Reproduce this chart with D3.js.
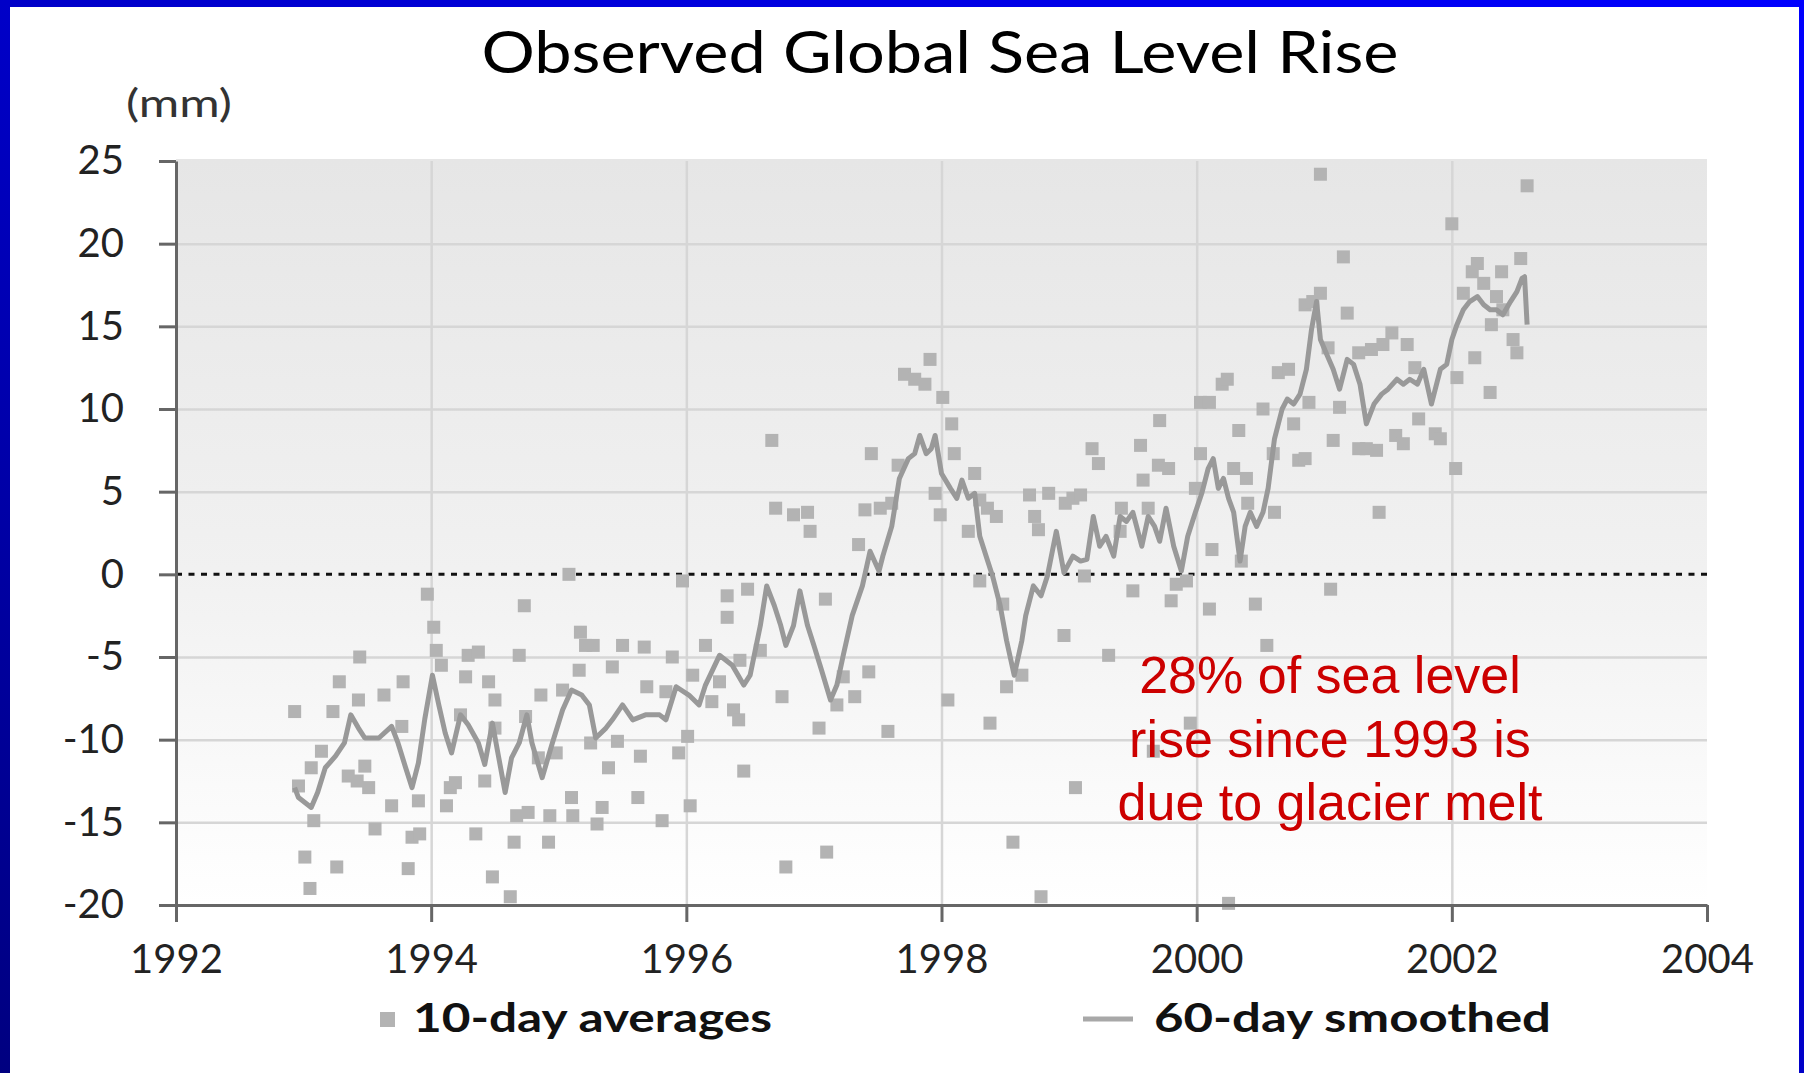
<!DOCTYPE html>
<html>
<head>
<meta charset="utf-8">
<script src="https://cdn.jsdelivr.net/npm/d3@7"></script>
<style>
  html, body { margin: 0; padding: 0; background: #fff; }
  svg { display: block; }
  .tick text { font-family: Lato, "Open Sans", sans-serif; font-size: 40px; fill: #222; }
  .axis path, .axis line { stroke: #666; stroke-width: 3; }
  .grid line { stroke: #d6d6d6; stroke-width: 2.5; }
  .grid path { display: none; }
</style>
</head>
<body>
<script>
// Tick values
const xTicks = [1992, 1994, 1996, 1998, 2000, 2002, 2004];
const yTicks = [-20, -15, -10, -5, 0, 5, 10, 15, 20, 25];

// 10-day averages (decimal year, mm)
const avgYears = [
  1992.93, 1993.05, 1993.01, 1993.08, 1993.26, 1992.96, 1993.06, 1993.14, 1993.23, 1993.28,
  1993.35, 1993.42, 1993.44, 1993.43, 1993.48, 1993.51, 1993.56, 1993.63, 1993.69, 1993.78,
  1993.77, 1993.82, 1993.85, 1993.91, 1993.90, 1993.97, 1994.02, 1994.04, 1994.08, 1994.12,
  1994.15, 1994.19, 1994.23, 1994.27, 1994.29, 1994.37, 1994.35, 1994.42, 1994.45, 1994.50,
  1994.50, 1994.48, 1994.62, 1994.65, 1994.67, 1994.69, 1994.73, 1994.76, 1994.74, 1994.86,
  1994.84, 1994.92, 1994.93, 1994.98, 1995.03, 1995.08, 1995.10, 1995.11, 1995.16, 1995.17,
  1995.21, 1995.27, 1995.25, 1995.30, 1995.34, 1995.39, 1995.42, 1995.50, 1995.46, 1995.62,
  1995.64, 1995.67, 1995.69, 1995.81, 1995.89, 1995.84, 1995.94, 1995.97, 1996.01, 1996.03,
  1996.05, 1996.15, 1996.20, 1996.26, 1996.32, 1996.32, 1996.37, 1996.41, 1996.45, 1996.48,
  1996.42, 1996.58, 1996.67, 1996.70, 1996.75, 1996.78, 1996.84, 1996.95, 1996.97, 1997.04,
  1997.09, 1997.10, 1997.18, 1997.23, 1997.32, 1997.35, 1997.40, 1997.43, 1997.45, 1997.52,
  1997.58, 1997.61, 1997.66, 1997.71, 1997.79, 1997.87, 1997.91, 1998.01, 1997.99, 1998.05,
  1998.08, 1998.10, 1997.95, 1998.26, 1998.30, 1998.36, 1998.43, 1998.21, 1998.30, 1998.38,
  1998.51, 1998.48, 1998.56, 1998.63, 1998.69, 1998.73, 1998.76, 1998.78, 1998.84,
  1998.97, 1999.03, 1999.05, 1998.96, 1999.09, 1999.18, 1999.23, 1999.12, 1999.31, 1999.41,
  1999.40, 1999.50, 1999.56, 1999.58, 1999.62, 1999.66, 1999.70, 1999.71, 1999.78, 1999.80,
  1999.84, 1999.92, 1999.95, 1999.99, 2000.03, 2000.03, 2000.10, 2000.12, 2000.10, 2000.20,
  2000.24, 2000.25, 2000.29, 2000.33, 2000.35, 2000.39, 2000.40, 2000.46, 2000.52, 2000.55,
  2000.61, 2000.60, 2000.64, 2000.72, 2000.76, 2000.80, 2000.85, 2000.88, 2000.85, 2000.91,
  2000.97, 2000.97, 2001.05, 2001.15, 2001.18, 2001.07, 2001.03, 2001.12, 2001.27, 2001.33,
  2001.41, 2001.43, 2001.27, 2001.37, 2001.46, 2001.53, 2001.56, 2001.62, 2001.65, 2001.71,
  2001.74, 2001.87, 2001.91, 2002.00, 2002.03, 2002.04, 2002.09, 2002.16, 2002.20, 2002.18,
  2002.25, 2002.30, 2002.31, 2002.39, 2002.40, 2002.48, 2002.51, 2002.54, 2002.59, 2002.35
];
const avgValues = [
  -8.3, -19.0, -17.1, -14.9, -17.7, -12.8, -11.7, -10.7, -8.3, -6.5,
  -12.2, -12.5, -5.0, -7.6, -11.6, -12.9, -15.4, -7.3, -14.0, -6.5,
  -9.2, -17.8, -15.9, -15.7, -13.7, -1.2, -3.2, -4.6, -5.5, -14.0,
  -12.9, -12.6, -8.5, -6.2, -4.9, -4.7, -15.7, -12.5, -6.5, -7.6,
  -9.3, -18.3, -19.5, -16.2, -14.6, -4.9, -1.9, -14.4, -8.6, -7.3,
  -11.1, -16.2, -14.6, -10.8, -7.0, 0.0, -13.5, -14.6, -5.8, -3.5,
  -4.3, -4.3, -10.2, -15.1, -14.1, -11.7, -5.6, -4.3, -10.1, -13.5,
  -11.0, -4.4, -6.8, -14.9, -5.0, -7.1, -10.8, -0.4, -9.8, -14.0,
  -6.1, -4.3, -7.7, -6.5, -1.3, -2.6, -8.2, -8.8, -11.9, -0.9,
  -5.2, -4.6, 8.1, 4.0, -7.4, -17.7, 3.6, 3.75, 2.6, -9.3,
  -1.5, -16.8, -7.9, -6.2, -7.4, 1.8, 3.9, -5.9, 7.3, 4.0,
  -9.5, 4.3, 6.6, 12.1, 11.8, 11.5, 13.0, 10.7, 3.6, -7.6,
  9.1, 7.3, 4.9, 6.1, 4.5, 4.0, 3.5, 2.6, -0.4, -9.0,
  -6.8, -1.8, -16.2, -6.1, 4.8, 3.5, 2.7, -19.5, 4.9,
  4.3, 4.6, -12.9, -3.7, 4.8, 7.6, 6.7, -0.1, -4.9, 4.0,
  2.6, -1.0, 7.8, 5.7, 4.0, -10.7, 6.6, 9.3, 6.4, -1.6,
  -0.6, -0.4, -9.0, 5.2, 7.3, 10.4, 10.4, 1.5, -2.1, 11.5,
  11.8, -19.9, 6.4, 8.7, 0.8, 5.8, 4.3, -1.8, 10.0, -4.3,
  3.75, 7.3, 12.2, 12.4, 9.1, 6.9, 7.0, 10.4, 16.3, 16.5,
  24.2, 17.0, -0.9, 19.2, 15.8, 8.1, 13.7, 10.1, 7.6, 7.6,
  7.5, 3.75, 13.4, 13.6, 13.9, 14.6, 8.4, 7.9, 13.9, 12.5,
  9.4, 8.5, 8.2, 21.2, 6.4, 11.9, 17.0, 18.3, 18.8, 13.1,
  17.6, 11.0, 15.1, 18.3, 16.0, 14.2, 13.4, 19.1, 23.5, 16.8
];

// 60-day smoothed (decimal year, mm)
const smoothYears = [
  1992.93, 1992.96, 1993.06, 1993.11, 1993.17, 1993.25, 1993.32, 1993.37, 1993.43, 1993.48,
  1993.59, 1993.69, 1993.74, 1993.80, 1993.85, 1993.90, 1993.95, 1994.01, 1994.06, 1994.11,
  1994.16, 1994.23, 1994.29, 1994.37, 1994.42, 1994.48, 1994.53, 1994.58, 1994.63, 1994.69,
  1994.75, 1994.79, 1994.87, 1994.95, 1995.03, 1995.10, 1995.18, 1995.24, 1995.29, 1995.37,
  1995.42, 1995.50, 1995.58, 1995.68, 1995.79, 1995.84, 1995.92, 1996.02, 1996.10, 1996.15,
  1996.26, 1996.36, 1996.45, 1996.50, 1996.58, 1996.63, 1996.69, 1996.74, 1996.78, 1996.84,
  1996.89, 1996.95, 1997.00, 1997.06, 1997.13, 1997.18, 1997.23, 1997.30, 1997.38, 1997.44,
  1997.51, 1997.54, 1997.61, 1997.67, 1997.74, 1997.79, 1997.83, 1997.88, 1997.92, 1997.95,
  1998.00, 1998.07, 1998.12, 1998.16, 1998.21, 1998.26, 1998.30, 1998.35, 1998.40, 1998.46,
  1998.51, 1998.57, 1998.63, 1998.66, 1998.72, 1998.78, 1998.83, 1998.90, 1998.96, 1999.03,
  1999.09, 1999.14, 1999.19, 1999.24, 1999.29, 1999.35, 1999.40, 1999.45, 1999.50, 1999.57,
  1999.62, 1999.67, 1999.71, 1999.76, 1999.82, 1999.88, 1999.93, 1999.99, 2000.04, 2000.09,
  2000.13, 2000.17, 2000.21, 2000.25, 2000.29, 2000.34, 2000.38, 2000.42, 2000.47, 2000.52,
  2000.56, 2000.61, 2000.67, 2000.71, 2000.76, 2000.81, 2000.86, 2000.90, 2000.94, 2000.97,
  2001.02, 2001.07, 2001.12, 2001.18, 2001.23, 2001.28, 2001.33, 2001.39, 2001.45, 2001.50,
  2001.57, 2001.62, 2001.67, 2001.73, 2001.78, 2001.84, 2001.91, 2001.96, 2002.00, 2002.04,
  2002.09, 2002.14, 2002.20, 2002.25, 2002.30, 2002.35, 2002.40, 2002.46, 2002.51, 2002.55,
  2002.57, 2002.59
];
const smoothValues = [
  -12.9, -13.5, -14.1, -13.2, -11.7, -11.0, -10.2, -8.5, -9.3, -9.9,
  -9.9, -9.2, -10.2, -11.7, -12.9, -11.4, -8.75, -6.1, -7.9, -9.6,
  -10.8, -8.5, -9.1, -10.2, -11.5, -9.0, -11.1, -13.2, -11.1, -10.2,
  -8.5, -10.2, -12.3, -10.2, -8.2, -7.0, -7.3, -7.9, -9.9, -9.3,
  -8.8, -7.9, -8.8, -8.5, -8.5, -8.8, -6.8, -7.3, -7.9, -6.7,
  -4.9, -5.5, -6.7, -6.1, -3.1, -0.7, -1.9, -3.1, -4.3, -3.1,
  -1.0, -3.1, -4.3, -5.8, -7.6, -6.7, -4.9, -2.5, -0.7, 1.4,
  0.2, 1.1, 2.9, 5.8, 7.0, 7.3, 8.4, 7.3, 7.6, 8.4,
  6.1, 5.2, 4.6, 5.7, 4.6, 4.9, 2.3, 1.1, -0.1, -1.9,
  -4.0, -6.1, -4.0, -2.5, -0.7, -1.3, -0.1, 2.6, 0.1, 1.1,
  0.8, 0.9, 3.5, 1.7, 2.3, 1.1, 3.5, 3.2, 3.75, 1.7,
  3.5, 2.9, 2.0, 4.0, 1.7, 0.2, 2.3, 3.75, 4.9, 6.4,
  7.0, 5.2, 5.8, 4.6, 3.75, 0.8, 2.9, 3.75, 2.9, 3.75,
  5.2, 8.2, 10.0, 10.6, 10.3, 10.9, 12.4, 14.8, 16.5, 14.2,
  13.3, 12.4, 11.2, 13.0, 12.7, 11.5, 9.1, 10.3, 10.9, 11.2,
  11.8, 11.5, 11.8, 11.5, 12.4, 10.3, 12.4, 12.7, 14.2, 15.1,
  16.0, 16.5, 16.8, 16.3, 16.0, 16.0, 15.7, 16.5, 17.1, 17.9,
  18.0, 15.1
];

const noteLines = ["28% of sea level", "rise since 1993 is", "due to glacier melt"];

const width = 1804, height = 1073;
const plot = { left: 176, right: 1707, top: 161, bottom: 905 };

const svg = d3.select("body").append("svg")
  .attr("width", width)
  .attr("height", height);

const defs = svg.append("defs");

let frameGrad = defs.append("linearGradient")
  .attr("id", "frame-grad")
  .attr("x1", 0).attr("y1", 1).attr("x2", 1).attr("y2", 0);
frameGrad.append("stop").attr("offset", 0).attr("stop-color", "#000080");
frameGrad.append("stop").attr("offset", 0.5).attr("stop-color", "#0000c8");
frameGrad.append("stop").attr("offset", 1).attr("stop-color", "#0000ff");

let bgGrad = defs.append("linearGradient")
  .attr("id", "bg-grad")
  .attr("x1", 0).attr("y1", 0).attr("x2", 0).attr("y2", 1);
bgGrad.append("stop").attr("offset", 0).attr("stop-color", "#e6e6e6");
bgGrad.append("stop").attr("offset", 0.55).attr("stop-color", "#f1f1f1");
bgGrad.append("stop").attr("offset", 1).attr("stop-color", "#ffffff");

// Slide frame
svg.append("rect")
   .attr("width", width)
   .attr("height", height)
   .attr("fill", "url(#frame-grad)");

svg.append("rect")
   .attr("x", 10)
   .attr("y", 7)
   .attr("width", width - 10 - 5)
   .attr("height", height - 7)
   .attr("fill", "#fff");

// Scales
const xScale = d3.scaleLinear()
                 .domain([1992, 2004])
                 .range([plot.left, plot.right]);

const yScale = d3.scaleLinear()
                 .domain([-20, 25])
                 .range([plot.bottom, plot.top]);

// Plot background
svg.append("rect")
   .attr("x", plot.left)
   .attr("y", plot.top - 2)
   .attr("width", plot.right - plot.left)
   .attr("height", plot.bottom - plot.top + 2)
   .attr("fill", "url(#bg-grad)");

// Grid lines
let xGrid = d3.axisBottom(xScale)
              .tickValues(xTicks.slice(1, -1))
              .tickSize(-(plot.bottom - plot.top))
              .tickFormat("");

let yGrid = d3.axisLeft(yScale)
              .tickValues(yTicks.filter(d => d != 0 && d != -20 && d != 25))
              .tickSize(-(plot.right - plot.left))
              .tickFormat("");

svg.append("g")
   .attr("class", "grid")
   .attr("transform", `translate(0,${plot.bottom})`)
   .call(xGrid);

svg.append("g")
   .attr("class", "grid")
   .attr("transform", `translate(${plot.left},0)`)
   .call(yGrid);

// Zero line
svg.append("line")
   .attr("x1", plot.left)
   .attr("x2", plot.right)
   .attr("y1", yScale(0))
   .attr("y2", yScale(0))
   .attr("stroke", "#111")
   .attr("stroke-width", 3)
   .attr("stroke-dasharray", "6,6.5");

// 10-day averages
const sq = 13;
svg.append("g")
   .selectAll("rect")
   .data(d3.range(avgYears.length))
   .join("rect")
   .attr("x", i => xScale(avgYears[i]) - sq / 2)
   .attr("y", i => yScale(avgValues[i]) - sq / 2)
   .attr("width", sq)
   .attr("height", sq)
   .attr("fill", "#b3b3b3");

// 60-day smoothed
let line = d3.line()
             .x(i => xScale(smoothYears[i]))
             .y(i => yScale(smoothValues[i]));

svg.append("path")
   .datum(d3.range(smoothYears.length))
   .attr("d", line)
   .attr("fill", "none")
   .attr("stroke", "#999")
   .attr("stroke-width", 5)
   .attr("stroke-linejoin", "round");

// Axes (plain hyphen for negatives, as in the original)
let xAxis = d3.axisBottom(xScale)
              .tickValues(xTicks)
              .tickSize(17)
              .tickSizeOuter(0)
              .tickPadding(23)
              .tickFormat(d => String(d));

let yAxis = d3.axisLeft(yScale)
              .tickValues(yTicks)
              .tickSize(17)
              .tickSizeOuter(0)
              .tickPadding(35)
              .tickFormat(d => String(d));

svg.append("g")
   .attr("class", "axis")
   .attr("transform", `translate(0,${plot.bottom})`)
   .call(xAxis);

svg.append("g")
   .attr("class", "axis")
   .attr("transform", `translate(${plot.left},0)`)
   .call(yAxis);

// Titles
svg.append("text")
   .attr("x", 940)
   .attr("y", 73)
   .attr("text-anchor", "middle")
   .attr("textLength", 917)
   .attr("lengthAdjust", "spacingAndGlyphs")
   .style("font-family", "Lato, sans-serif")
   .style("font-size", "58px")
   .style("fill", "#000")
   .text("Observed Global Sea Level Rise");

svg.append("text")
   .attr("x", 126)
   .attr("y", 117)
   .attr("textLength", 106)
   .attr("lengthAdjust", "spacingAndGlyphs")
   .style("font-family", "Lato, sans-serif")
   .style("font-size", "38px")
   .style("fill", "#333")
   .text("(mm)");

// Annotation
svg.append("text")
   .attr("text-anchor", "middle")
   .style("font-family", "'Liberation Sans', Arial, sans-serif")
   .style("font-size", "52px")
   .style("fill", "#cc0000")
   .selectAll("tspan")
   .data(noteLines)
   .join("tspan")
   .attr("x", 1330)
   .attr("y", (d, i) => 693 + i * 63.5)
   .text(d => d);

// Legend
let legend = svg.append("g")
                .style("font-family", "Lato, sans-serif")
                .style("font-size", "40px")
                .style("font-weight", "bold")
                .style("fill", "#111");

legend.append("rect")
      .attr("x", 380)
      .attr("y", 1012)
      .attr("width", 15)
      .attr("height", 15)
      .attr("fill", "#b3b3b3");

legend.append("text")
      .attr("x", 413)
      .attr("y", 1032)
      .attr("textLength", 359)
      .attr("lengthAdjust", "spacingAndGlyphs")
      .text("10-day averages");

legend.append("line")
      .attr("x1", 1083)
      .attr("x2", 1133)
      .attr("y1", 1019)
      .attr("y2", 1019)
      .attr("stroke", "#a8a8a8")
      .attr("stroke-width", 5);

legend.append("text")
      .attr("x", 1154)
      .attr("y", 1032)
      .attr("textLength", 397)
      .attr("lengthAdjust", "spacingAndGlyphs")
      .text("60-day smoothed");
</script>
</body>
</html>
